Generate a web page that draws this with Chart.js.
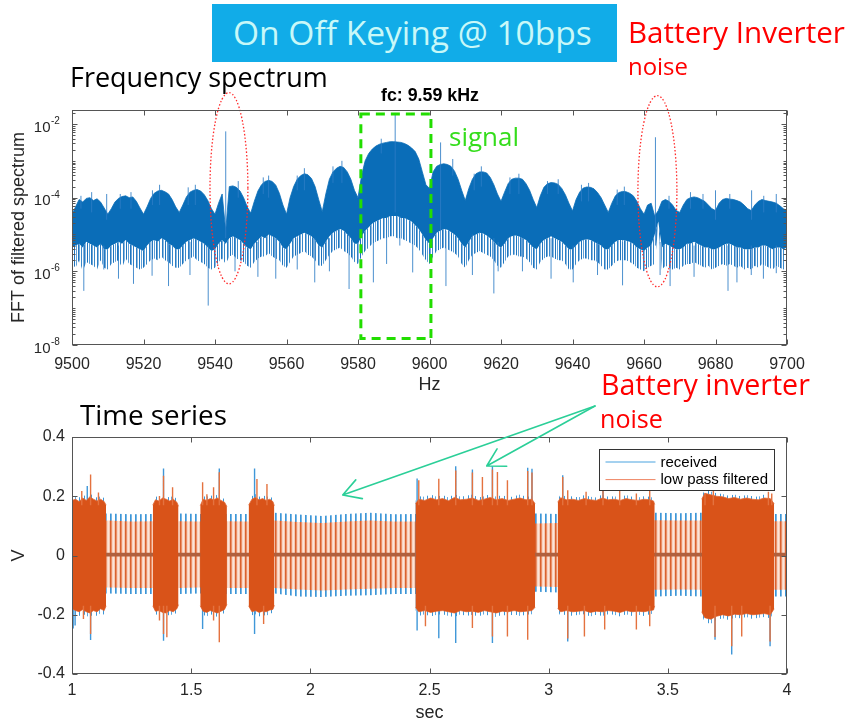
<!DOCTYPE html>
<html><head><meta charset="utf-8">
<script src="https://cdn.jsdelivr.net/npm/chart.js@4/dist/chart.umd.min.js"></script>
<style>
html,body{margin:0;padding:0;background:#fff;}
body{width:851px;height:723px;position:relative;overflow:hidden;}
canvas{position:absolute;left:0;}
#c1{top:80px;}
#c2{top:395px;}
.t{position:absolute;white-space:nowrap;line-height:1;font-family:"Open Sans",sans-serif;font-size:28px;}
#box{position:absolute;left:212px;top:4px;width:405px;height:58px;background:#11ace8;}
</style></head><body>
<div id="box"></div>
<canvas id="c1" width="851" height="320"></canvas>
<canvas id="c2" width="851" height="328"></canvas>
<div class="t" id="tTitle" style="color:#c8f8f8">On Off Keying @ 10bps</div>
<div class="t" id="tBat1" style="color:#ff0000">Battery Inverter</div>
<div class="t" id="tBat2" style="color:#ff0000">noise</div>
<div class="t" id="tFreq" style="color:#000">Frequency spectrum</div>
<div class="t" id="tFc" style="color:#000;font-family:'Liberation Sans',Arial,sans-serif;font-weight:bold;font-size:14px">fc: 9.59 kHz</div>
<div class="t" id="tSignal" style="color:#35dd1c">signal</div>
<div class="t" id="tBat3" style="color:#ff0000">Battery inverter</div>
<div class="t" id="tBat4" style="color:#ff0000">noise</div>
<div class="t" id="tTime" style="color:#000">Time series</div>
<script>
// ---------------- Frequency spectrum data (log10 of amplitude, 1 Hz grid from 9500 Hz) ----------------
const specFreqStart = 9500;
const specFreqStep = 1;
const specTopExp = [
-4.45,-4.25,-4.05,-4.12,-4.02,-4.0,-4.08,-4.03,-4.12,-4.28,
-4.45,-4.3,-4.12,-4.02,-3.97,-3.95,-4.0,-3.98,-4.1,-4.28,
-4.45,-4.25,-4.02,-3.88,-3.82,-3.8,-3.84,-3.9,-4.05,-4.25,
-4.4,-4.2,-3.98,-3.85,-3.8,-3.78,-3.82,-3.92,-4.08,-4.3,
-4.45,-4.15,-3.9,-4.9,-3.7,-3.68,-3.72,-3.82,-4.0,-4.25,
-4.42,-4.1,-3.82,-3.65,-3.56,-3.53,-3.56,-3.66,-3.88,-4.2,
-4.45,-4.0,-3.7,-3.5,-3.4,-3.35,-3.38,-3.48,-3.7,-4.05,
-4.38,-3.9,-3.5,-3.3,-3.2,-3.15,-3.18,-3.3,-3.5,-3.8,
-4.0,-3.4,-3.0,-2.8,-2.68,-2.6,-2.55,-2.52,-2.5,-2.48,
-2.48,-2.49,-2.5,-2.53,-2.58,-2.65,-2.75,-2.95,-3.3,-3.65,
-3.75,-3.3,-3.15,-3.1,-3.08,-3.1,-3.15,-3.28,-3.5,-3.8,
-4.08,-3.75,-3.5,-3.35,-3.3,-3.3,-3.33,-3.45,-3.65,-3.9,
-4.1,-3.85,-3.62,-3.5,-3.47,-3.47,-3.5,-3.62,-3.8,-4.05,
-4.27,-3.95,-3.72,-3.62,-3.59,-3.6,-3.64,-3.75,-3.92,-4.15,
-4.36,-4.05,-3.85,-3.74,-3.71,-3.72,-3.76,-3.86,-4.0,-4.2,
-4.4,-4.15,-3.95,-3.86,-3.83,-3.84,-3.88,-3.95,-4.1,-4.3,
-4.45,-4.2,-4.15,-4.5,-4.35,-4.1,-4.05,-4.1,-4.2,-4.35,
-4.4,-4.2,-4.05,-4.0,-3.98,-4.0,-4.05,-4.1,-4.2,-4.3,
-4.35,-4.15,-4.05,-4.02,-4.04,-4.05,-4.08,-4.12,-4.2,-4.3,
-4.35,-4.2,-4.1,-4.05,-4.08,-4.1,-4.12,-4.15,-4.22,-4.3,
-4.35];
const specCoreLowExp = [
-5.35,-5.3,-5.25,-5.35,-5.2,-5.25,-5.3,-5.35,-5.25,-5.4,
-5.4,-5.3,-5.25,-5.2,-5.25,-5.15,-5.25,-5.3,-5.35,-5.4,
-5.45,-5.3,-5.2,-5.15,-5.2,-5.1,-5.15,-5.25,-5.3,-5.4,
-5.4,-5.3,-5.2,-5.15,-5.1,-5.15,-5.2,-5.25,-5.35,-5.45,
-5.4,-5.25,-5.15,-5.25,-5.1,-5.05,-5.1,-5.15,-5.25,-5.35,
-5.4,-5.25,-5.15,-5.05,-5.1,-5.0,-5.05,-5.1,-5.2,-5.35,
-5.4,-5.25,-5.1,-5.05,-5.0,-4.95,-5.0,-5.05,-5.15,-5.3,
-5.35,-5.2,-5.05,-4.95,-4.9,-4.85,-4.9,-5.0,-5.1,-5.25,
-5.25,-5.05,-4.9,-4.8,-4.7,-4.65,-4.6,-4.55,-4.55,-4.5,
-4.5,-4.5,-4.55,-4.55,-4.6,-4.65,-4.75,-4.85,-5.0,-5.15,
-5.25,-5.1,-4.95,-4.9,-4.85,-4.87,-4.93,-5.0,-5.1,-5.25,
-5.35,-5.2,-5.05,-5.0,-4.95,-4.97,-5.03,-5.1,-5.2,-5.3,
-5.35,-5.25,-5.1,-5.05,-5.03,-5.05,-5.1,-5.15,-5.25,-5.35,
-5.4,-5.25,-5.15,-5.1,-5.05,-5.1,-5.15,-5.2,-5.3,-5.4,
-5.4,-5.3,-5.2,-5.15,-5.13,-5.15,-5.2,-5.25,-5.3,-5.4,
-5.4,-5.3,-5.2,-5.15,-5.15,-5.17,-5.2,-5.25,-5.35,-5.4,
-5.45,-5.35,-5.3,-5.0,-4.65,-5.35,-5.25,-5.3,-5.35,-5.4,
-5.4,-5.35,-5.25,-5.25,-5.2,-5.25,-5.3,-5.35,-5.35,-5.4,
-5.4,-5.35,-5.3,-5.25,-5.25,-5.3,-5.35,-5.35,-5.4,-5.4,
-5.4,-5.35,-5.35,-5.3,-5.3,-5.35,-5.4,-5.35,-5.35,-5.4,
-5.35];
const specFringeLowExp = [
-5.8,-5.9,-5.7,-6.0,-5.75,-5.8,-5.85,-5.95,-5.7,-5.9,
-5.95,-5.8,-5.75,-5.7,-5.9,-5.65,-5.8,-5.85,-5.9,-5.95,
-5.9,-5.8,-5.7,-5.65,-5.7,-5.6,-5.7,-5.75,-5.85,-5.9,
-5.9,-5.8,-5.7,-5.65,-5.6,-5.7,-5.75,-5.8,-5.9,-5.95,
-5.9,-5.75,-5.65,-5.8,-5.6,-5.55,-5.65,-5.7,-5.75,-5.85,
-5.9,-5.75,-5.65,-5.6,-5.6,-5.5,-5.6,-5.65,-5.7,-5.85,
-5.9,-5.75,-5.6,-5.55,-5.5,-5.45,-5.55,-5.6,-5.7,-5.85,
-5.85,-5.7,-5.55,-5.45,-5.4,-5.35,-5.45,-5.5,-5.6,-5.75,
-5.8,-5.6,-5.45,-5.35,-5.25,-5.2,-5.15,-5.1,-5.1,-5.05,
-5.05,-5.1,-5.1,-5.15,-5.2,-5.25,-5.3,-5.4,-5.55,-5.7,
-5.8,-5.6,-5.45,-5.4,-5.35,-5.4,-5.45,-5.5,-5.6,-5.8,
-5.9,-5.7,-5.55,-5.5,-5.45,-5.5,-5.55,-5.6,-5.7,-5.85,
-5.9,-5.75,-5.6,-5.55,-5.55,-5.6,-5.6,-5.65,-5.75,-5.9,
-5.95,-5.75,-5.65,-5.6,-5.6,-5.65,-5.7,-5.7,-5.8,-5.95,
-5.95,-5.8,-5.7,-5.65,-5.65,-5.7,-5.7,-5.75,-5.85,-5.95,
-5.95,-5.85,-5.75,-5.7,-5.7,-5.7,-5.75,-5.8,-5.9,-5.95,
-6.0,-5.9,-5.85,-5.8,-4.75,-5.95,-5.85,-5.9,-5.95,-5.9,
-5.95,-5.85,-5.8,-5.8,-5.75,-5.8,-5.85,-5.9,-5.85,-5.95,
-5.9,-5.85,-5.8,-5.85,-5.8,-5.85,-5.9,-5.85,-5.95,-5.9,
-5.95,-5.85,-5.9,-5.8,-5.85,-5.9,-5.95,-5.85,-5.9,-5.95,
-5.9];
// thin single-bin lines: [frequency Hz, low log10, high log10]
const specSpikes = [
[9543.0,-5.1,-2.2],[9590.4,-4.4,-1.7],[9603.1,-4.9,-2.5],[9663.2,-5.3,-2.36],
[9509.7,-4.6,-3.9],[9680.0,-4.6,-3.8],[9690.1,-4.6,-3.8],
[9505.5,-4.4,-3.85],[9524.5,-4.2,-3.65],[9534.5,-4.2,-3.65],[9555.0,-4.0,-3.4],[9565.0,-3.8,-3.2],
[9575.5,-3.6,-3.0],[9614.5,-3.7,-3.15],[9625.0,-3.9,-3.35],[9644.5,-4.1,-3.6],[9654.5,-4.2,-3.7],
[9673.0,-4.3,-3.85],[9697.0,-4.4,-3.9],[9516.5,-4.3,-3.85],[9546.5,-4.0,-3.55],[9586.5,-2.8,-2.4],
[9606.5,-3.4,-2.95],[9636.0,-3.9,-3.5],[9684.0,-4.3,-3.9],
[9502.5,-4.3,-3.95],[9513.5,-4.3,-3.9],[9522.5,-4.2,-3.8],[9532.5,-4.2,-3.72],[9553.5,-3.9,-3.45],
[9563.0,-3.8,-3.4],[9573.0,-3.6,-3.15],[9612.5,-3.8,-3.35],[9622.5,-3.9,-3.45],[9633.0,-3.9,-3.55],
[9642.5,-4.1,-3.65],[9652.5,-4.2,-3.78],[9667.0,-4.3,-3.95],[9676.5,-4.3,-3.9],[9693.5,-4.4,-3.95],
[9503.3,-6.53,-5.3],[9508.9,-5.95,-5.3],[9513.0,-6.2,-5.3],[9517.2,-6.34,-5.3],[9522.4,-6.12,-5.2],
[9527.0,-6.4,-5.2],[9533.0,-6.1,-5.2],[9538.1,-6.93,-5.3],[9545.6,-6.0,-5.1],[9552.0,-6.15,-5.2],
[9557.0,-6.2,-5.1],[9563.0,-5.95,-5.1],[9567.9,-6.3,-5.1],[9572.0,-6.0,-5.1],[9577.5,-6.48,-5.0],
[9584.3,-6.3,-4.8],[9588.0,-5.8,-4.6],[9591.7,-5.3,-4.5],[9595.3,-6.03,-4.7],[9604.6,-6.4,-4.9],
[9612.0,-6.1,-5.0],[9618.0,-6.6,-5.1],[9619.2,-6.0,-5.2],[9626.0,-6.0,-5.1],[9634.0,-6.2,-5.1],
[9640.2,-6.3,-5.3],[9647.0,-6.1,-5.2],[9654.0,-6.38,-5.2],[9664.5,-6.1,-5.2],[9667.3,-6.4,-5.3],
[9674.0,-6.15,-5.3],[9683.5,-6.53,-5.3],[9686.0,-6.3,-5.3],[9690.0,-6.1,-5.3],[9693.4,-6.2,-5.3],
[9697.0,-6.05,-5.3]];
const specXTicks = {min:9500, max:9700, step:20};
const specYMin = 1e-8, specYMax = Math.pow(10,-1.62);
const specYLabelExps = [-8,-6,-4,-2];
const signalBox = {f0:9580.8, f1:9600.4, lo:Math.pow(10,-7.826), hi:Math.pow(10,-1.728)};
const noiseEllipses = [
 {f0:9538.6, f1:9549.2, lo:Math.pow(10,-6.34), hi:Math.pow(10,-1.149)},
 {f0:9658.3, f1:9669.2, lo:Math.pow(10,-6.42), hi:Math.pow(10,-1.23)}];

// ---------------- Time series data ----------------
const burstT = [
 1.000,1.015,1.030,1.045,1.060,1.075,1.090,1.105,1.120,1.135,1.143,null,
 1.339,1.350,1.365,1.380,1.395,1.410,1.425,1.440,1.447,null,
 1.538,1.550,1.565,1.580,1.595,1.610,1.625,1.640,1.650,null,
 1.741,1.755,1.770,1.785,1.800,1.815,1.830,1.843,1.849,null,
 2.441,2.455,2.480,2.505,2.530,2.555,2.580,2.605,2.630,2.655,2.680,2.705,2.730,2.755,2.780,2.805,2.830,2.855,2.880,2.905,2.930,2.943,null,
 3.038,3.050,3.075,3.100,3.125,3.150,3.175,3.200,3.225,3.250,3.275,3.300,3.325,3.350,3.375,3.400,3.425,3.440,3.445,null,
 3.642,3.655,3.680,3.705,3.730,3.755,3.780,3.805,3.830,3.855,3.880,3.905,3.930,3.946];
const filtTop = [
 0.186,0.19,0.182,0.194,0.186,0.198,0.19,0.184,0.19,0.182,0.17,null,
 0.17,0.188,0.184,0.194,0.19,0.184,0.19,0.18,0.166,null,
 0.168,0.19,0.186,0.192,0.188,0.194,0.186,0.18,0.165,null,
 0.17,0.19,0.196,0.188,0.192,0.186,0.19,0.182,0.168,null,
 0.175,0.19,0.186,0.194,0.188,0.192,0.185,0.196,0.188,0.19,0.194,0.186,0.19,0.196,0.188,0.192,0.186,0.19,0.194,0.188,0.19,0.175,null,
 0.18,0.195,0.188,0.19,0.186,0.192,0.188,0.186,0.194,0.188,0.19,0.186,0.192,0.188,0.186,0.19,0.188,0.184,0.172,null,
 0.19,0.21,0.205,0.2,0.198,0.192,0.196,0.19,0.194,0.19,0.188,0.194,0.192,0.175];
const filtBot = [
 -0.18,-0.186,-0.19,-0.182,-0.19,-0.194,-0.186,-0.19,-0.18,-0.186,-0.17,null,
 -0.17,-0.188,-0.186,-0.192,-0.194,-0.186,-0.19,-0.18,-0.166,null,
 -0.17,-0.188,-0.192,-0.186,-0.19,-0.194,-0.188,-0.182,-0.165,null,
 -0.17,-0.19,-0.186,-0.192,-0.188,-0.19,-0.184,-0.182,-0.168,null,
 -0.175,-0.19,-0.186,-0.192,-0.188,-0.186,-0.19,-0.194,-0.186,-0.19,-0.188,-0.192,-0.186,-0.19,-0.194,-0.188,-0.19,-0.186,-0.19,-0.188,-0.186,-0.175,null,
 -0.178,-0.19,-0.186,-0.19,-0.188,-0.186,-0.192,-0.188,-0.19,-0.186,-0.188,-0.192,-0.186,-0.19,-0.188,-0.19,-0.186,-0.184,-0.17,null,
 -0.19,-0.21,-0.215,-0.205,-0.2,-0.204,-0.198,-0.2,-0.196,-0.2,-0.198,-0.196,-0.2,-0.18];
const recvTop = [
 0.205,0.2,0.196,0.206,0.198,0.21,0.2,0.196,0.2,0.194,0.18,null,
 0.18,0.2,0.196,0.206,0.2,0.196,0.202,0.19,0.176,null,
 0.178,0.2,0.198,0.204,0.198,0.206,0.198,0.19,0.175,null,
 0.18,0.2,0.208,0.198,0.204,0.198,0.2,0.192,0.178,null,
 0.185,0.2,0.198,0.206,0.198,0.204,0.196,0.208,0.198,0.202,0.206,0.196,0.2,0.208,0.198,0.204,0.196,0.2,0.206,0.198,0.2,0.185,null,
 0.19,0.206,0.198,0.2,0.196,0.204,0.198,0.196,0.206,0.198,0.2,0.196,0.204,0.198,0.196,0.2,0.198,0.194,0.182,null,
 0.2,0.222,0.216,0.21,0.208,0.202,0.206,0.2,0.204,0.2,0.198,0.206,0.202,0.185];
const recvBot = [
 -0.225,-0.2,-0.204,-0.196,-0.204,-0.208,-0.198,-0.204,-0.194,-0.2,-0.18,null,
 -0.18,-0.2,-0.198,-0.204,-0.208,-0.198,-0.202,-0.192,-0.176,null,
 -0.18,-0.2,-0.206,-0.198,-0.202,-0.208,-0.2,-0.194,-0.175,null,
 -0.18,-0.202,-0.198,-0.206,-0.2,-0.204,-0.196,-0.194,-0.178,null,
 -0.185,-0.204,-0.198,-0.206,-0.2,-0.198,-0.204,-0.208,-0.198,-0.204,-0.2,-0.206,-0.198,-0.204,-0.208,-0.2,-0.204,-0.198,-0.204,-0.2,-0.198,-0.185,null,
 -0.188,-0.204,-0.198,-0.204,-0.2,-0.198,-0.206,-0.2,-0.204,-0.198,-0.2,-0.206,-0.198,-0.204,-0.2,-0.204,-0.198,-0.196,-0.18,null,
 -0.2,-0.225,-0.23,-0.218,-0.212,-0.218,-0.21,-0.212,-0.208,-0.214,-0.21,-0.208,-0.212,-0.19];
// inverter pulse train level (between bursts)
const pulseT        = [1.00,1.15,1.25,1.34,1.45,1.54,1.65,1.74,1.85,1.95,2.05,2.15,2.25,2.35,2.44,2.95,3.04,3.45,3.55,3.64,3.95,4.00];
const recvPulseTop  = [0.14,0.142,0.139,0.14,0.142,0.14,0.14,0.14,0.144,0.138,0.133,0.14,0.144,0.139,0.14,0.142,0.14,0.144,0.143,0.144,0.14,0.14];
const recvPulseBot  = [-0.13,-0.128,-0.13,-0.13,-0.13,-0.128,-0.13,-0.13,-0.128,-0.138,-0.14,-0.136,-0.134,-0.13,-0.13,-0.122,-0.125,-0.138,-0.136,-0.138,-0.138,-0.138];
const filtPulseTop  = [0.115,0.118,0.115,0.116,0.116,0.115,0.116,0.115,0.118,0.113,0.11,0.115,0.118,0.115,0.115,0.108,0.11,0.119,0.118,0.118,0.116,0.116];
const filtPulseBot  = [-0.11,-0.108,-0.11,-0.11,-0.11,-0.108,-0.11,-0.11,-0.11,-0.115,-0.118,-0.115,-0.112,-0.11,-0.11,-0.105,-0.106,-0.116,-0.115,-0.116,-0.116,-0.116];
const baseNoiseT = [1, 4], baseNoiseTop = [0.009, 0.009], baseNoiseBot = [-0.003, -0.003];
// isolated peaks [time s, volts]
const recvSpikes = [[1.005,-0.246],[1.064,0.235],[1.013,-0.236],[1.078,-0.285],[1.384,0.294],[1.384,-0.288],
 [1.548,-0.248],[1.618,0.294],[1.766,0.294],[1.766,-0.265],[2.448,0.26],[2.448,-0.253],[2.61,0.301],[2.61,-0.295],
 [2.764,0.301],[2.764,-0.295],[2.912,0.296],[2.68,0.29],[3.059,0.271],[3.08,-0.29],[3.768,-0.334],[3.929,-0.306],
 [3.698,-0.284],[3.228,0.232],[2.539,-0.279],[2.93,0.293]];
const filtSpikes = [[1.078,0.273],[1.078,-0.265],[1.041,0.218],[1.111,0.213],[1.048,-0.214],[1.384,0.269],[1.384,-0.265],
 [1.367,0.201],[1.367,-0.219],[1.398,-0.276],[1.422,0.23],[1.548,0.247],[1.618,0.281],[1.618,-0.293],[1.594,0.23],
 [1.594,-0.219],[1.566,0.207],[1.776,0.258],[1.818,0.241],[1.804,-0.231],[2.455,0.254],[2.539,0.259],[2.61,0.287],
 [2.68,0.28],[2.68,-0.245],[2.764,0.29],[2.764,-0.273],[2.785,0.282],[2.722,0.265],[2.827,0.254],[2.827,-0.273],
 [2.912,0.285],[2.912,-0.284],[2.93,0.28],[2.483,-0.239],[3.059,0.265],[3.08,0.22],[3.08,-0.28],[3.15,-0.273],
 [3.157,0.215],[3.228,0.225],[3.235,-0.25],[3.298,0.22],[3.368,0.209],[3.368,-0.25],[3.424,0.232],[3.424,-0.239],
 [3.656,0.209],[3.691,0.22],[3.698,-0.275],[3.768,-0.306],[3.81,-0.273],[3.922,0.215],[3.929,-0.29],[3.936,0.209]];
const timeXTicks = {min:1, max:4, step:0.5};
const timeYTicks = {min:-0.4, max:0.4, step:0.2};
const legendLabels = ['received', 'low pass filtered'];
const arrowFrom = [3.1944, 0.5046];
const arrowTips = [[2.1358, 0.2042], [2.740, 0.3021]];

// ---------------- helpers ----------------
const AX_FONT = 'Liberation Sans, Arial, sans-serif';
Chart.defaults.font.family = AX_FONT;
function stripe(cols){
  const c = document.createElement('canvas'); c.width = cols.length; c.height = 1;
  const x = c.getContext('2d');
  cols.forEach((col,i)=>{ if(col){ x.fillStyle = col; x.fillRect(i,0,1,1);} });
  return x.createPattern(c, 'repeat');
}
const specPts = arr => arr.map((e,i)=>({x: specFreqStart + i*specFreqStep, y: Math.pow(10, e)}));
const spikeSegs = [];
specSpikes.forEach(([f,lo,hi])=>{ spikeSegs.push({x:f,y:Math.pow(10,lo)},{x:f,y:Math.pow(10,hi)},{x:f,y:null}); });
const burstPts = arr => arr.map((v,i)=>({x: burstT[i] === null ? burstT[i-1] : burstT[i], y: v}));
const seriesPts = (ts, vs) => ts.map((t,i)=>({x:t, y:vs[i]}));
const peakSegs = list => { const out=[]; list.forEach(([t,v])=>{ out.push({x:t,y:v>0?0.17:-0.17},{x:t,y:v},{x:t,y:null}); }); return out; };

function drawFrame(chart, o){
  const {ctx, chartArea:a} = chart; const xs = chart.scales.x, ys = chart.scales.y;
  const L = Math.round(a.left)+0.5, R = Math.round(a.right)-0.5, T = Math.round(a.top)+0.5, B = Math.round(a.bottom)-0.5;
  ctx.save();
  ctx.strokeStyle = '#555'; ctx.lineWidth = 1; ctx.setLineDash([]);
  ctx.strokeRect(L, T, R-L, B-T);
  ctx.beginPath();
  xs.ticks.forEach(t=>{ const p = Math.round(xs.getPixelForValue(t.value))+0.5; ctx.moveTo(p,B); ctx.lineTo(p,B-5); ctx.moveTo(p,T); ctx.lineTo(p,T+5); });
  o.yMajor.forEach(v=>{ const p = Math.round(ys.getPixelForValue(v))+0.5; ctx.moveTo(L,p); ctx.lineTo(L+5,p); ctx.moveTo(R,p); ctx.lineTo(R-5,p); });
  (o.yMinor||[]).forEach(v=>{ const p = Math.round(ys.getPixelForValue(v))+0.5; ctx.moveTo(L,p); ctx.lineTo(L+3,p); ctx.moveTo(R,p); ctx.lineTo(R-3,p); });
  ctx.stroke();
  ctx.fillStyle = '#262626';
  if (o.logLabels){
    o.logLabels.forEach(k=>{
      const p = ys.getPixelForValue(Math.pow(10,k));
      ctx.font = '15px ' + AX_FONT; ctx.textAlign = 'right'; ctx.textBaseline = 'middle';
      ctx.fillText('10', a.left-21.5, p+3.4);
      ctx.font = '10px ' + AX_FONT; ctx.textAlign = 'left';
      ctx.fillText(String(k), a.left-21, p-2.8);
    });
  }
  ctx.font = '18px ' + AX_FONT; ctx.textAlign = 'center'; ctx.textBaseline = 'middle';
  ctx.fillText(o.xTitle, (a.left+a.right)/2, a.bottom + o.xTitleOff);
  ctx.save(); ctx.translate(19, (a.top+a.bottom)/2 + (o.yTitleShift||0)); ctx.rotate(-Math.PI/2);
  ctx.fillText(o.yTitle, 0, 0); ctx.restore();
  ctx.restore();
}

// ---------------- Chart 1: spectrum ----------------
const yMinor1 = [];
for (let k=-8; k<=-2; k++) for (let m=1; m<=9; m++){ if (m===1 && k%2===0) continue; const v = m*Math.pow(10,k); if (v>specYMin && v<specYMax) yMinor1.push(v); }
const specPlugin = {
  id:'specPlugin',
  afterDatasetsDraw(chart){
    const {ctx} = chart; const xs = chart.scales.x, ys = chart.scales.y;
    ctx.save();
    ctx.strokeStyle = '#22dd00'; ctx.lineWidth = 3; ctx.setLineDash([9,6]);
    const x0 = xs.getPixelForValue(signalBox.f0), x1 = xs.getPixelForValue(signalBox.f1);
    const y0 = ys.getPixelForValue(signalBox.hi), y1 = ys.getPixelForValue(signalBox.lo);
    ctx.strokeRect(x0, y0, x1-x0, y1-y0);
    ctx.strokeStyle = '#ff2a2a'; ctx.lineWidth = 1.3; ctx.setLineDash([1.5,2]);
    noiseEllipses.forEach(e=>{
      const ex0 = xs.getPixelForValue(e.f0), ex1 = xs.getPixelForValue(e.f1);
      const ey0 = ys.getPixelForValue(e.hi), ey1 = ys.getPixelForValue(e.lo);
      ctx.beginPath(); ctx.ellipse((ex0+ex1)/2, (ey0+ey1)/2, (ex1-ex0)/2, (ey1-ey0)/2, 0, 0, Math.PI*2); ctx.stroke();
    });
    ctx.restore();
  },
  afterDraw(chart){ drawFrame(chart, {yMajor: specYLabelExps.map(k=>Math.pow(10,k)), yMinor: yMinor1, logLabels: specYLabelExps, xTitle:'Hz', xTitleOff:40, yTitle:'FFT of filtered spectrum'}); }
};
const fringeStripe = stripe(['#1f74bd','#6ea8da',null,'#3a88c9',null,null,'#2c7dc3','#8ab9e2',null,'#1f74bd',null,'#5d9ed6',null]);
new Chart(document.getElementById('c1'), {
  type:'line',
  data:{datasets:[
    {label:'spikes', data:spikeSegs, borderColor:'rgba(45,125,198,0.85)', borderWidth:1, pointRadius:0, spanGaps:false, fill:false},
    {label:'top', data:specPts(specTopExp), borderColor:'#0a6db8', borderWidth:0.8, pointRadius:0, fill:2, backgroundColor:'#0a6db8'},
    {label:'coreLow', data:specPts(specCoreLowExp), borderColor:'rgba(0,0,0,0)', borderWidth:0, pointRadius:0, fill:3, backgroundColor:fringeStripe},
    {label:'fringeLow', data:specPts(specFringeLowExp), borderColor:'rgba(0,0,0,0)', borderWidth:0, pointRadius:0, fill:false}
  ]},
  options:{
    responsive:false, animation:false, events:[], devicePixelRatio:1,
    layout:{padding:{left:0, right:64, top:30, bottom:0}},
    elements:{line:{tension:0}},
    plugins:{legend:{display:false}, tooltip:{enabled:false}},
    scales:{
      x:{type:'linear', min:specXTicks.min, max:specXTicks.max,
         ticks:{stepSize:specXTicks.step, autoSkip:false, maxRotation:0, minRotation:0, padding:10, color:'#262626', font:{size:16}, callback:v=>String(v)},
         grid:{display:false, drawTicks:false}, border:{display:false}, afterFit:s=>{ s.height = 55; }},
      y:{type:'logarithmic', min:specYMin, max:specYMax, ticks:{display:false},
         grid:{display:false, drawTicks:false}, border:{display:false}, afterFit:s=>{ s.width = 72; }}
    }
  },
  plugins:[specPlugin]
});

// ---------------- Chart 2: time series ----------------
const blueStripe = stripe(['#3d96d6','#78b6e4',null,null,null]);
const orangeStripe = stripe(['#d9622f','#ea9068','#f8d3c1','#fbe4d8','#f6c8b2']);
const recvBurstStripe = stripe(['#3d96d6',null,null,'#62a9e0',null,null,null,'#3d96d6',null,null,null,null]);
const timePlugin = {
  id:'timePlugin',
  afterDraw(chart){
    const {ctx, chartArea:a} = chart; const xs = chart.scales.x, ys = chart.scales.y;
    drawFrame(chart, {yMajor:[-0.4,-0.2,0,0.2,0.4], xTitle:'sec', xTitleOff:39, yTitle:'V'});
    // legend
    ctx.save();
    const bw = 175, bh = 41, bx = Math.round(a.right - 13 - bw)+0.5, by = Math.round(a.top + 12)+0.5;
    ctx.fillStyle = '#fff'; ctx.fillRect(bx, by, bw, bh);
    ctx.strokeStyle = '#333'; ctx.lineWidth = 1; ctx.strokeRect(bx, by, bw, bh);
    const cols = ['#4ba3df', '#ef8462'];
    legendLabels.forEach((lab,i)=>{
      const yy = by + 12.5 + i*17.6;
      ctx.strokeStyle = cols[i]; ctx.beginPath(); ctx.moveTo(bx+6, yy); ctx.lineTo(bx+56, yy); ctx.stroke();
      ctx.fillStyle = '#000'; ctx.font = '15px ' + AX_FONT; ctx.textAlign = 'left'; ctx.textBaseline = 'middle';
      ctx.fillText(lab, bx+61, yy+0.5);
    });
    // arrows
    ctx.strokeStyle = '#2bcf98'; ctx.lineWidth = 1.6; ctx.lineCap = 'round';
    const sx = xs.getPixelForValue(arrowFrom[0]), sy = ys.getPixelForValue(arrowFrom[1]);
    arrowTips.forEach(([t,v])=>{
      const tx = xs.getPixelForValue(t), ty = ys.getPixelForValue(v);
      const ang = Math.atan2(sy-ty, sx-tx);
      ctx.beginPath(); ctx.moveTo(sx,sy); ctx.lineTo(tx,ty);
      [-0.52, 0.52].forEach(d=>{ ctx.moveTo(tx,ty); ctx.lineTo(tx+20*Math.cos(ang+d), ty+20*Math.sin(ang+d)); });
      ctx.stroke();
    });
    ctx.restore();
  }
};
const ln = (extra) => Object.assign({pointRadius:0, borderWidth:0, borderColor:'rgba(0,0,0,0)', fill:false, spanGaps:false}, extra);
new Chart(document.getElementById('c2'), {
  type:'line',
  data:{datasets:[
    ln({label:'filtSpikes', data:peakSegs(filtSpikes), borderColor:'#e4723f', borderWidth:1.4}),
    ln({label:'low pass filtered', data:burstPts(filtTop), fill:2, backgroundColor:'#d95319', borderColor:'#e06a38', borderWidth:0.8}),
    ln({label:'filtBot', data:burstPts(filtBot), borderColor:'#e06a38', borderWidth:0.8}),
    ln({label:'recvSpikes', data:peakSegs(recvSpikes), borderColor:'#3f97d8', borderWidth:1.4}),
    ln({label:'received', data:burstPts(recvTop), fill:5, backgroundColor:recvBurstStripe}),
    ln({label:'recvBot', data:burstPts(recvBot)}),
    ln({label:'baseNoise', data:seriesPts(baseNoiseT, baseNoiseTop), fill:7, backgroundColor:'#b0603e'}),
    ln({label:'baseNoiseBot', data:seriesPts(baseNoiseT, baseNoiseBot)}),
    ln({label:'filtPulse', data:seriesPts(pulseT, filtPulseTop), fill:9, backgroundColor:orangeStripe}),
    ln({label:'filtPulseBot', data:seriesPts(pulseT, filtPulseBot)}),
    ln({label:'recvPulse', data:seriesPts(pulseT, recvPulseTop), fill:11, backgroundColor:blueStripe}),
    ln({label:'recvPulseBot', data:seriesPts(pulseT, recvPulseBot)})
  ]},
  options:{
    responsive:false, animation:false, events:[], devicePixelRatio:1,
    layout:{padding:{left:0, right:64, top:42, bottom:0}},
    elements:{line:{tension:0}},
    plugins:{legend:{display:false}, tooltip:{enabled:false}},
    scales:{
      x:{type:'linear', min:timeXTicks.min, max:timeXTicks.max,
         ticks:{stepSize:timeXTicks.step, autoSkip:false, maxRotation:0, minRotation:0, padding:7, color:'#262626', font:{size:16}, callback:v=>String(+v.toFixed(2))},
         grid:{display:false, drawTicks:false}, border:{display:false}, afterFit:s=>{ s.height = 49; }},
      y:{type:'linear', min:timeYTicks.min, max:timeYTicks.max,
         ticks:{stepSize:timeYTicks.step, padding:7, color:'#262626', font:{size:16}, callback:v=>String(+v.toFixed(2))},
         grid:{display:false, drawTicks:false}, border:{display:false}, afterFit:s=>{ s.width = 72; }}
    }
  },
  plugins:[timePlugin]
});

// ---------------- annotation text placement ----------------
function place(id, left, baseline, width){
  const el = document.getElementById(id);
  el.style.left = left + 'px'; el.style.top = '0px';
  const mk = document.createElement('span');
  mk.style.cssText = 'display:inline-block;width:0;height:0;vertical-align:baseline';
  el.appendChild(mk);
  if (width){
    const w = el.getBoundingClientRect().width;
    const fs = parseFloat(getComputedStyle(el).fontSize);
    el.style.fontSize = (fs*width/w) + 'px';
  }
  const b = mk.getBoundingClientRect().top - el.getBoundingClientRect().top;
  el.style.top = (baseline - b) + 'px';
}
place('tTitle', 233, 45, 359);
place('tBat1', 628, 43, 217);
place('tBat2', 628, 75, 60);
place('tFreq', 70, 87, 258);
place('tFc', 381, 101, 98);
place('tSignal', 449, 146, 70);
place('tBat3', 601, 395, 209);
place('tBat4', 600, 428, 63);
place('tTime', 80, 425, 147);
</script>
</body></html>
